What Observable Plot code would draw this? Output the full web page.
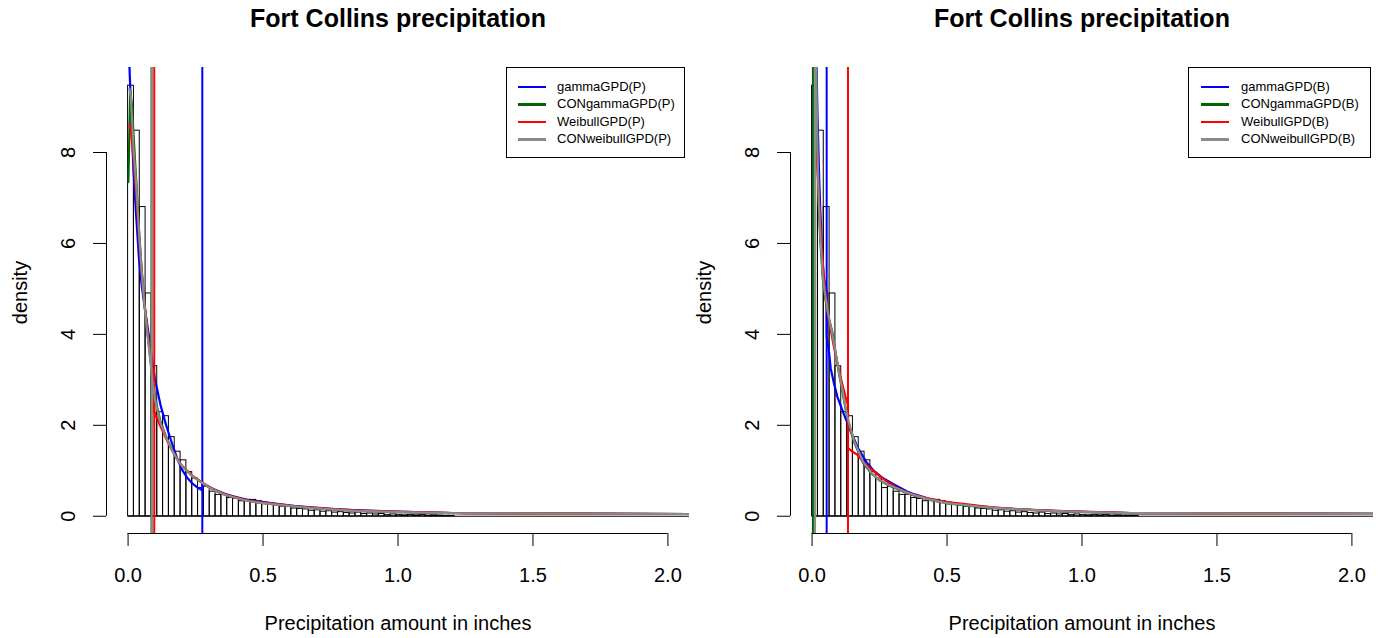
<!DOCTYPE html>
<html>
<head>
<meta charset="utf-8">
<script src="https://cdn.jsdelivr.net/npm/d3@7"></script>
<script src="https://cdn.jsdelivr.net/npm/@observablehq/plot@0.6"></script>
<style>
  html, body { margin: 0; padding: 0; background: #fff; }
  #wrap { position: relative; width: 1380px; height: 638px; overflow: hidden; font-family: "Liberation Sans", Arial, sans-serif; }
  .panel { position: absolute; top: 0; width: 690px; height: 638px; }
  .legend { position: absolute; border: 1px solid #000; background: #fff; box-sizing: border-box; }
  .legend .row { position: absolute; height: 16px; font-size: 13px; line-height: 16px; white-space: nowrap; color: #000; }
  .legend .sw { position: absolute; height: 2.5px; }
</style>
</head>
<body>
<div id="wrap"></div>
<script>
// ---------- data ----------
const title = "Fort Collins precipitation";
const xLabel = "Precipitation amount in inches";
const yLabel = "density";
const xTicks = [0, 0.5, 1.0, 1.5, 2.0];
const yTicks = [0, 2, 4, 6, 8];
const xDomain = [-0.08, 2.08];
const yDomain = [-0.3796, 9.8696];
const dataMax = 4.63;

// histogram (same data in both panels)
const binWidth = 0.0216;
const binHeights = [9.47, 8.48, 6.8, 4.9, 3.3, 2.29, 2.2, 1.74, 1.42, 1.23, 0.97, 0.83, 0.62, 0.65, 0.54,
  0.47, 0.47, 0.40, 0.38, 0.33, 0.36, 0.36, 0.33, 0.30, 0.26, 0.25, 0.21, 0.21, 0.17, 0.16, 0.15, 0.12,
  0.13, 0.10, 0.11, 0.08, 0.09, 0.07, 0.06, 0.08, 0.05, 0.06, 0.04, 0.05, 0.03, 0.04, 0.03, 0.02, 0.03,
  0.02, 0.03, 0.015, 0.02, 0.015, 0.01, 0.01];

const modelNames = ["gammaGPD", "CONgammaGPD", "WeibullGPD", "CONweibullGPD"];
const modelColors = ["#0000ff", "#006400", "#ff0000", "#8a8a8a"];

// left panel (P)
const leftBlueX = [0.0025, 0.005, 0.01, 0.015, 0.02, 0.03, 0.04, 0.05, 0.06, 0.07, 0.08, 0.09, 0.10, 0.12, 0.14, 0.16, 0.18, 0.20, 0.22, 0.24, 0.26, 0.275, 0.275, 0.29, 0.32, 0.36, 0.40, 0.45, 0.50, 0.56, 0.62, 0.68, 0.75, 0.84, 0.97, 1.10, 1.24, 4.63];
const leftBlueY = [11.0, 9.9, 9.1, 8.3, 7.6, 6.6, 5.7, 5.1, 4.65, 4.25, 3.85, 3.4, 3.0, 2.45, 2.02, 1.65, 1.3, 1.02, 0.84, 0.71, 0.62, 0.57, 0.70, 0.67, 0.59, 0.49, 0.42, 0.35, 0.31, 0.265, 0.225, 0.195, 0.165, 0.135, 0.105, 0.088, 0.066, 0];
const leftGreenX = [0.001, 0.008, 0.015, 0.02, 0.03, 0.04, 0.05, 0.06, 0.07, 0.08, 0.09, 0.10, 0.12, 0.14, 0.16, 0.18, 0.20, 0.24, 0.28, 0.32, 0.36, 0.40, 0.45, 0.50, 0.56, 0.62, 0.68, 0.75, 0.84, 0.97, 1.10, 1.24, 4.63];
const leftGreenY = [7.35, 9.35, 9.0, 8.4, 7.4, 6.35, 5.45, 4.75, 4.15, 3.6, 3.05, 2.6, 2.08, 1.76, 1.49, 1.28, 1.1, 0.87, 0.71, 0.57, 0.47, 0.40, 0.33, 0.29, 0.25, 0.21, 0.18, 0.15, 0.12, 0.095, 0.08, 0.066, 0];
const leftRedX = [0.005, 0.01, 0.02, 0.03, 0.04, 0.05, 0.06, 0.07, 0.08, 0.09, 0.097, 0.097, 0.10, 0.12, 0.14, 0.16, 0.18, 0.20, 0.24, 0.28, 0.32, 0.36, 0.40, 0.45, 0.50, 0.56, 0.62, 0.68, 0.75, 0.84, 0.97, 1.10, 1.24, 4.63];
const leftRedY = [8.6, 8.5, 7.9, 7.1, 6.2, 5.4, 4.7, 4.15, 3.65, 3.2, 2.95, 2.3, 2.25, 1.98, 1.72, 1.48, 1.28, 1.11, 0.88, 0.72, 0.58, 0.48, 0.41, 0.34, 0.30, 0.26, 0.22, 0.19, 0.16, 0.13, 0.10, 0.085, 0.066, 0];
const leftGrayX = [0.005, 0.01, 0.02, 0.03, 0.04, 0.05, 0.06, 0.07, 0.08, 0.09, 0.10, 0.12, 0.14, 0.16, 0.18, 0.20, 0.24, 0.28, 0.32, 0.36, 0.40, 0.45, 0.50, 0.56, 0.62, 0.68, 0.75, 0.84, 0.97, 1.10, 1.24, 4.63];
const leftGrayY = [9.40, 9.25, 8.10, 7.30, 6.30, 5.40, 4.70, 4.10, 3.55, 3.00, 2.55, 2.05, 1.75, 1.48, 1.27, 1.10, 0.87, 0.71, 0.57, 0.47, 0.40, 0.33, 0.29, 0.25, 0.21, 0.18, 0.15, 0.12, 0.095, 0.08, 0.066, 0];
const leftThresholds = [0.275, 0.087, 0.097, 0.087];

// right panel (B)
const rightBlueX = [0.015, 0.02, 0.026, 0.03, 0.038, 0.045, 0.054, 0.054, 0.063, 0.069, 0.08, 0.094, 0.118, 0.143, 0.17, 0.2, 0.23, 0.26, 0.3, 0.35, 0.38, 0.44, 0.5, 0.56, 0.62, 0.7, 0.8, 0.9, 1.0, 1.1, 1.18, 4.63];
const rightBlueY = [10.3, 8.8, 7.5, 6.8, 5.6, 5.2, 4.95, 3.95, 3.6, 3.25, 2.95, 2.62, 2.24, 1.87, 1.5, 1.2, 0.99, 0.85, 0.71, 0.55, 0.48, 0.37, 0.3, 0.255, 0.215, 0.178, 0.143, 0.117, 0.097, 0.082, 0.07, 0];
const rightGreenX = [0.012, 0.016, 0.02, 0.025, 0.03, 0.04, 0.05, 0.06, 0.075, 0.09, 0.10, 0.112, 0.13, 0.155, 0.19, 0.22, 0.25, 0.28, 0.315, 0.35, 0.38, 0.44, 0.50, 0.56, 0.62, 0.70, 0.80, 0.90, 1.00, 1.10, 1.18, 4.63];
const rightGreenY = [10.5, 9.4, 7.9, 6.8, 6.1, 5.2, 4.75, 4.4, 4.05, 3.5, 3.12, 2.76, 2.17, 1.64, 1.16, 0.94, 0.79, 0.69, 0.60, 0.51, 0.45, 0.355, 0.285, 0.245, 0.205, 0.17, 0.14, 0.112, 0.093, 0.078, 0.07, 0];
const rightRedX = [0.012, 0.017, 0.022, 0.026, 0.03, 0.034, 0.038, 0.045, 0.055, 0.069, 0.08, 0.094, 0.11, 0.124, 0.133, 0.133, 0.145, 0.168, 0.19, 0.21, 0.253, 0.28, 0.315, 0.35, 0.375, 0.44, 0.5, 0.56, 0.62, 0.68, 0.745, 0.8, 0.9, 1.0, 1.1, 1.18, 4.63];
const rightRedY = [8.05, 8.0, 7.4, 6.95, 6.5, 6.07, 5.75, 5.15, 4.6, 4.1, 3.75, 3.36, 2.95, 2.62, 2.45, 1.50, 1.44, 1.35, 1.2, 1.08, 0.87, 0.75, 0.62, 0.53, 0.47, 0.38, 0.31, 0.27, 0.23, 0.19, 0.16, 0.145, 0.12, 0.1, 0.085, 0.07, 0];
const rightGrayX = [0.012, 0.016, 0.02, 0.025, 0.03, 0.04, 0.05, 0.06, 0.075, 0.09, 0.10, 0.112, 0.13, 0.155, 0.19, 0.22, 0.25, 0.28, 0.315, 0.35, 0.38, 0.44, 0.50, 0.56, 0.62, 0.70, 0.80, 0.90, 1.00, 1.10, 1.18, 4.63];
const rightGrayY = [10.5, 9.5, 8.0, 6.9, 6.2, 5.25, 4.8, 4.45, 4.0, 3.5, 3.15, 2.8, 2.2, 1.67, 1.18, 0.95, 0.8, 0.7, 0.61, 0.52, 0.46, 0.36, 0.29, 0.25, 0.21, 0.175, 0.14, 0.115, 0.095, 0.08, 0.07, 0];
const rightThresholds = [0.054, 0.003, 0.133, 0.011];

// ---------- build ----------
const bins = binHeights.map((h, i) => ({x0: i * binWidth, x1: (i + 1) * binWidth, h}));
const zip = (xs, ys) => xs.map((x, i) => ({x, y: ys[i]}));

function panel({curves, thresholds, marginLeft, marginRight}) {
  const marks = [
    Plot.rectY(bins, {x1: "x0", x2: "x1", y: "h", fill: "none", stroke: "black", strokeWidth: 1, clip: true}),
    Plot.ruleY([0], {x1: 0, x2: dataMax, stroke: "black", strokeWidth: 1, clip: true})
  ];
  curves.forEach((c, i) => {
    marks.push(Plot.line(c, {x: "x", y: "y", stroke: modelColors[i], strokeWidth: 2.2, clip: true}));
    marks.push(Plot.ruleX([thresholds[i]], {stroke: modelColors[i], strokeWidth: 2}));
  });
  marks.push(
    Plot.ruleX([xDomain[0]], {y1: yTicks[0], y2: yTicks[yTicks.length - 1], stroke: "black"}),
    Plot.ruleY([yDomain[0]], {x1: xTicks[0], x2: xTicks[xTicks.length - 1], stroke: "black"}),
    Plot.axisY({ticks: yTicks, tickSize: 13, tickFormat: () => "", anchor: "left"}),
    Plot.text(yTicks, {y: d => d, text: d => String(d), frameAnchor: "left", dx: -38, rotate: -90,
      fontSize: 20, textAnchor: "middle", lineAnchor: "middle"}),
    Plot.axisX({ticks: xTicks, tickSize: 13, tickPadding: 21, fontSize: 20, tickFormat: d => d.toFixed(1), anchor: "bottom"}),
    Plot.text([title], {text: d => d, frameAnchor: "top", dy: -49, fontSize: 25, fontWeight: "bold",
      textAnchor: "middle", lineAnchor: "middle"}),
    Plot.text([xLabel], {text: d => d, frameAnchor: "bottom", dy: 90, fontSize: 20,
      textAnchor: "middle", lineAnchor: "middle"}),
    Plot.text([yLabel], {text: d => d, frameAnchor: "left", dx: -86, dy: -8, rotate: -90, fontSize: 20,
      textAnchor: "middle", lineAnchor: "middle"})
  );
  return Plot.plot({
    width: 690, height: 638,
    marginLeft, marginRight, marginTop: 67, marginBottom: 105,
    x: {domain: xDomain, axis: null},
    y: {domain: yDomain, axis: null},
    style: {fontFamily: "'Liberation Sans', Arial, sans-serif", background: "white", color: "black", overflow: "visible"},
    marks
  });
}

function legend(suffix, box) {
  const div = document.createElement("div");
  div.className = "legend";
  Object.assign(div.style, {left: box.left + "px", top: box.top + "px", width: box.width + "px", height: box.height + "px"});
  modelNames.forEach((name, i) => {
    const row = document.createElement("div");
    row.className = "row";
    row.style.top = (19.5 + 17.5 * i - 8) - 1 + "px";
    row.style.left = "0px";
    const sw = document.createElement("div");
    sw.className = "sw";
    Object.assign(sw.style, {left: box.lineLeft + "px", width: "28px", top: "7px", background: modelColors[i]});
    const tx = document.createElement("span");
    tx.textContent = name + "(" + suffix + ")";
    tx.style.position = "absolute";
    tx.style.left = box.textLeft + "px";
    row.appendChild(sw); row.appendChild(tx);
    div.appendChild(row);
  });
  return div;
}

const wrap = document.getElementById("wrap");
const left = document.createElement("div"); left.className = "panel"; left.style.left = "0px";
left.appendChild(panel({
  curves: [zip(leftBlueX, leftBlueY), zip(leftGreenX, leftGreenY), zip(leftRedX, leftRedY), zip(leftGrayX, leftGrayY)],
  thresholds: leftThresholds, marginLeft: 106, marginRight: 1
}));
const right = document.createElement("div"); right.className = "panel"; right.style.left = "690px";
right.appendChild(panel({
  curves: [zip(rightBlueX, rightBlueY), zip(rightGreenX, rightGreenY), zip(rightRedX, rightRedY), zip(rightGrayX, rightGrayY)],
  thresholds: rightThresholds, marginLeft: 100, marginRight: 7
}));
wrap.appendChild(left);
wrap.appendChild(right);
wrap.appendChild(legend("P", {left: 506, top: 67, width: 179, height: 91, lineLeft: 11, textLeft: 50}));
wrap.appendChild(legend("B", {left: 1188, top: 67, width: 183, height: 91, lineLeft: 12, textLeft: 52}));
</script>
</body>
</html>
